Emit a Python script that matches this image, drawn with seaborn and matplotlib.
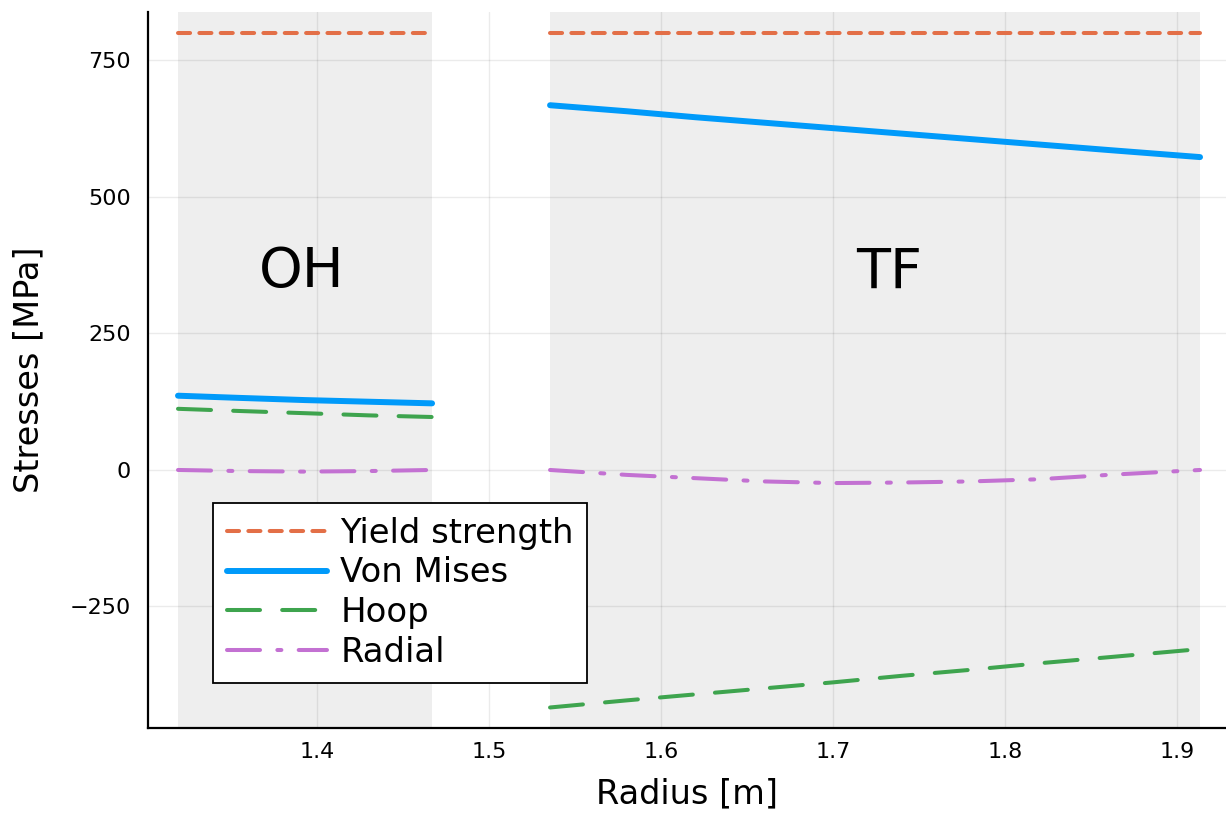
import matplotlib
matplotlib.use("Agg")
import matplotlib.pyplot as plt
import seaborn as sns
import pandas as pd

# radial positions (m) for the two coil regions
r_oh = [1.3192, 1.355, 1.393, 1.43, 1.4669]
r_tf = [1.5355, 1.58, 1.62, 1.66, 1.70, 1.74, 1.78, 1.82, 1.86, 1.9134]

# stresses (MPa)
yield_oh = [800, 800, 800, 800, 800]
yield_tf = [800] * 10
vm_oh = [136, 132, 128, 125, 122]
vm_tf = [668, 657, 646, 636, 626, 616, 606, 596, 586, 573]
hoop_oh = [112, 108, 104, 100, 97]
hoop_tf = [-435, -422, -411, -400, -389, -377, -366, -354, -343, -328]
radial_oh = [0, -2, -3, -2, 0]
radial_tf = [0, -9, -15, -21, -24, -23, -21, -17, -9, 0]

region_names = ["OH", "TF"]
region_label_x = [1.3912, 1.7325]
region_label_y = 362

sns.set_theme(style="white")
plt.rcParams["font.family"] = ["DejaVu Sans"]
plt.rcParams.update({"text.color": "black", "axes.labelcolor": "black",
                     "xtick.color": "black", "ytick.color": "black"})

fig = plt.figure(figsize=(12.26, 8.14), dpi=100)
ax = fig.add_axes([0.1207, 0.1057, 0.8793, 0.8796])

# shaded coil regions
for r in (r_oh, r_tf):
    ax.axvspan(r[0], r[-1], color="#EEEEEE", zorder=0, lw=0)

series = [
    ("Yield strength", yield_oh, yield_tf, "#E36F47", 2.9, (0, (3, 2.3))),
    ("Von Mises", vm_oh, vm_tf, "#009AFA", 4.3, "-"),
    ("Hoop", hoop_oh, hoop_tf, "#3EA44E", 2.9, (0, (8.2, 5.5))),
    ("Radial", radial_oh, radial_tf, "#C371D2", 2.9, (0, (8.2, 4.3, 1, 4.3))),
]

for name, y_oh, y_tf, col, lw, ls in series:
    for i, (r, y) in enumerate([(r_oh, y_oh), (r_tf, y_tf)]):
        df = pd.DataFrame({"r": r, "s": y})
        sns.lineplot(data=df, x="r", y="s", ax=ax, color=col, linewidth=lw,
                     linestyle=ls, label=name if i == 0 else None,
                     solid_capstyle="round", dash_capstyle="round", zorder=3)

for txt, x in zip(region_names, region_label_x):
    ax.text(x, region_label_y, txt, fontsize=40, ha="center", va="center")

ax.set_xlim(1.30174, 1.9285)
ax.set_ylim(-472.5, 838.8)
ax.set_xticks([1.4, 1.5, 1.6, 1.7, 1.8, 1.9])
ax.set_yticks([-250, 0, 250, 500, 750])
ax.tick_params(direction="in", length=9, width=1.3, labelsize=16)
ax.tick_params(axis="x", pad=10)
ax.tick_params(axis="y", pad=12.5)
ax.grid(True, color="black", alpha=0.08, lw=1)
ax.set_axisbelow(True)
for s in ("top", "right"):
    ax.spines[s].set_visible(False)
for s in ("left", "bottom"):
    ax.spines[s].set_color("black")
    ax.spines[s].set_linewidth(1.6)

ax.set_xlabel("Radius [m]", fontsize=24.2)
ax.set_ylabel("Stresses [MPa]", fontsize=24.2)
ax.xaxis.set_label_coords(0.5, -0.0684)
ax.yaxis.set_label_coords(-0.0955, 0.5)

leg = ax.legend(loc="upper left", bbox_to_anchor=(0.0603, 0.314), borderaxespad=0,
                fontsize=24.4, frameon=True, fancybox=False, framealpha=1,
                edgecolor="black", handlelength=2.95, handletextpad=0.41,
                labelspacing=0.2, borderpad=0.4)
leg.get_frame().set_linewidth(1.3)

fig.savefig("out.png", dpi=100)
